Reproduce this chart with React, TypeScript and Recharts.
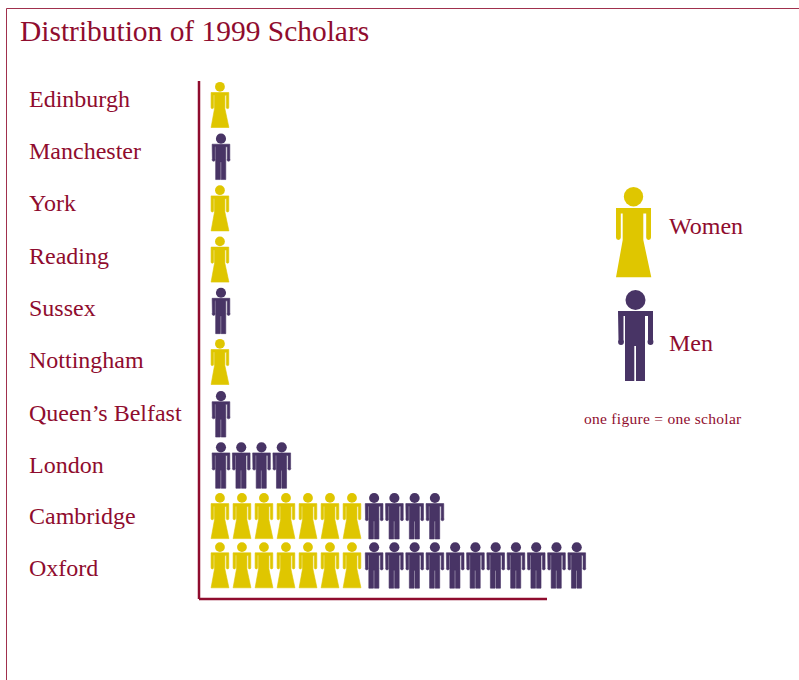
import React from 'react';
import { BarChart, Bar, XAxis, YAxis } from 'recharts';

// Scholars per university, top row first
const universities = ['Edinburgh', 'Manchester', 'York', 'Reading', 'Sussex', 'Nottingham', 'Queen’s Belfast', 'London', 'Cambridge', 'Oxford'];
const womenCounts = [1, 0, 1, 1, 0, 1, 0, 0, 7, 7];
const menCounts = [0, 1, 0, 0, 1, 0, 1, 4, 4, 11];

const CRIMSON = '#8f0c2e';
const GOLD = '#dfc600';
const PURPLE = '#483465';
const SERIF = '"Liberation Serif", serif';

// a woman figure takes a bit more room than a man figure
const WOMAN_SLOT = 1.086;
const MAN_SLOT = 1;

// rows in the original are not quite evenly spaced
const FIGURE_NUDGE = [0, 0.5, 1, 1, 1, 1, 2, 2, 1.5, -0.5];
const LABEL_NUDGE = [0, 0, 0, 1, 1, 1, 1.6, 1, 0, 0];

const tableData = universities.map((name, i) => ({
  name,
  row: i,
  women: womenCounts[i],
  men: menCounts[i],
  womenSpan: womenCounts[i] * WOMAN_SLOT,
  menSpan: menCounts[i] * MAN_SLOT,
}));

type FigureProps = { x: number; y: number; scale?: number; thicken?: number };

// Figures are drawn in a 35x90 box and scaled
const Woman = ({ x, y, scale = 1, thicken = 0 }: FigureProps) => (
  <g transform={`translate(${x} ${y}) scale(${scale})`} fill={GOLD}>
    <circle cx={17.5} cy={9.7} r={9.7} />
    <path
      stroke={GOLD}
      strokeWidth={thicken}
      d="M0 21H35V50.5a2.4 2.4 0 0 1-4.8 0V26.5H27.3V53L35.3 90.3H0L6.7 53V26.5H4.8V50.5a2.4 2.4 0 0 1-4.8 0Z"
    />
  </g>
);

const Man = ({ x, y, scale = 1, thicken = 0 }: FigureProps) => (
  <g transform={`translate(${x} ${y}) scale(${scale})`} fill={PURPLE}>
    <circle cx={17.5} cy={10} r={10} />
    <path
      stroke={PURPLE}
      strokeWidth={thicken}
      d="M0 21H35V50a2.9 2.9 0 0 1 0.4 2 2.9 2.9 0 0 1-5.8 0 2.9 2.9 0 0 1 0.4-2V26H27V91H18V56H16.3V91H7V26H5.5V50a2.9 2.9 0 0 1 0.4 2 2.9 2.9 0 0 1-5.8 0 2.9 2.9 0 0 1 0.4-2Z"
    />
  </g>
);

const SMALL = 0.505;

const makeRow = (kind: 'women' | 'men') => (props: any) => {
  const { x, y, width, height, payload } = props;
  const count = payload[kind];
  if (!count) return <g />;
  const slot = width / count;
  const Figure = kind === 'women' ? Woman : Man;
  // men sit a little further right when they have no women in front of them
  const nudge = kind === 'women' ? 0.1 : payload.women ? 1.1 : 2;
  const top = y + height / 2 - 24.6 + FIGURE_NUDGE[payload.row];
  return (
    <g>
      {Array.from({ length: count }, (_, i) => (
        <Figure key={i} x={x + slot * i + slot / 2 - 9 + nudge} y={top} scale={SMALL} thicken={1.2} />
      ))}
    </g>
  );
};

const CityTick = (props: any) => {
  const { y, payload, index } = props;
  return (
    <text x={29} y={y + index * 0.93 + LABEL_NUDGE[index]} fontFamily={SERIF} fontSize={24} fill={CRIMSON}>
      {payload.value}
    </text>
  );
};

const App: React.FC = () => (
  <div style={{ position: 'absolute', left: 0, top: 0, width: 799, height: 680, background: '#fff' }}>
    <BarChart
      width={799}
      height={680}
      data={tableData}
      layout="vertical"
      barCategoryGap={0}
      margin={{ top: 81, right: 205, bottom: 80, left: 0 }}
    >
      <XAxis
        type="number"
        domain={[0, 19]}
        padding={{ left: 10, right: 0 }}
        height={1}
        tick={false}
        tickLine={false}
        axisLine={{ stroke: CRIMSON, strokeWidth: 2.5, strokeDasharray: '348 1000' }}
      />
      <YAxis
        type="category"
        dataKey="name"
        width={199}
        padding={{ top: 0, bottom: 6 }}
        tickLine={false}
        tick={CityTick}
        interval={0}
        axisLine={{ stroke: CRIMSON, strokeWidth: 2.5 }}
      />
      <Bar dataKey="womenSpan" stackId="a" isAnimationActive={false} shape={makeRow('women')} />
      <Bar dataKey="menSpan" stackId="a" isAnimationActive={false} shape={makeRow('men')} />
    </BarChart>

    {/* frame, title and key */}
    <svg width={799} height={680} style={{ position: 'absolute', left: 0, top: 0, pointerEvents: 'none' }}>
      <path d="M6.5 680V8.5H799" fill="none" stroke={CRIMSON} strokeOpacity={0.85} strokeWidth={1} />
      <text x={20} y={41} fontFamily={SERIF} fontSize={29.45} fill={CRIMSON}>
        Distribution of 1999 Scholars
      </text>
      <Woman x={616} y={187} />
      <text x={669} y={234} fontFamily={SERIF} fontSize={24} fill={CRIMSON}>Women</text>
      <Man x={618} y={290} />
      <text x={669} y={351} fontFamily={SERIF} fontSize={24} fill={CRIMSON}>Men</text>
      <text x={584} y={424} fontFamily={SERIF} fontSize={15.5} letterSpacing={0.28} fill={CRIMSON}>one figure = one scholar</text>
    </svg>
  </div>
);

export default App;
